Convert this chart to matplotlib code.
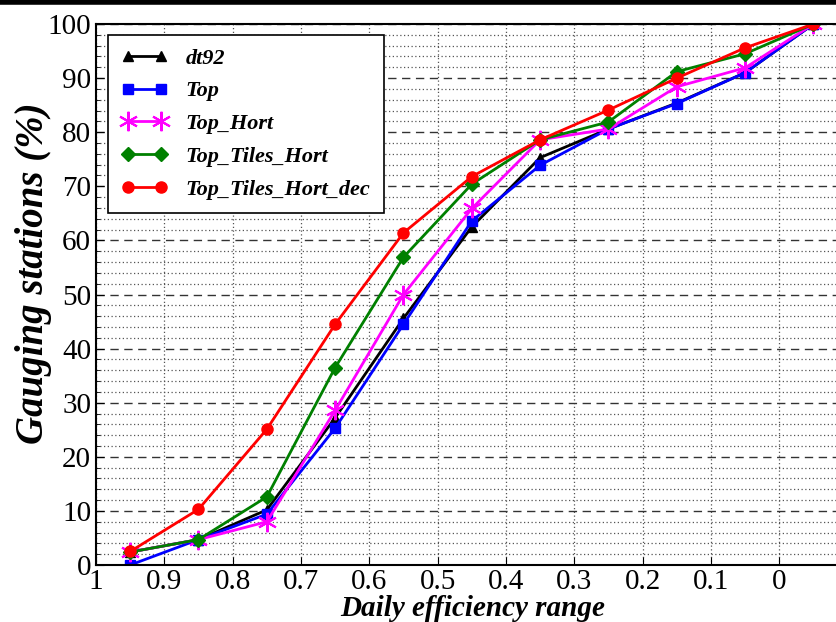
import numpy as np
import matplotlib.pyplot as plt
from matplotlib.lines import Line2D
from matplotlib.ticker import MultipleLocator, FormatStrFormatter

# efficiency bin centres (x axis runs from 1 down to 0)
x = [0.95, 0.85, 0.75, 0.65, 0.55, 0.45, 0.35, 0.25, 0.15, 0.05, -0.05]

dt92 = [2.4, 4.7, 10.2, 27.2, 45.6, 62.5, 75.3, 80.6, 85.4, 91.0, 100]
top = [0.0, 4.7, 9.4, 25.3, 44.5, 63.6, 73.9, 80.6, 85.3, 91.0, 100]
top_hort = [2.4, 4.7, 8.0, 28.6, 50.0, 65.9, 78.6, 80.6, 88.4, 91.9, 100]
top_tiles_hort = [2.4, 4.7, 12.6, 36.5, 56.9, 70.4, 78.6, 81.9, 91.2, 94.5, 100]
top_tiles_hort_dec = [2.5, 10.3, 25.1, 44.5, 61.4, 71.8, 78.6, 84.1, 90.0, 95.6, 100]

xticks = [1, 0.9, 0.8, 0.7, 0.6, 0.5, 0.4, 0.3, 0.2, 0.1, 0]

plt.rcParams['font.family'] = ['Liberation Serif', 'DejaVu Serif']

fig = plt.figure(figsize=(8.37, 6.22), dpi=100)
ax = fig.add_axes([0.1147, 0.0916, 0.898, 0.8698])

ax.plot(x, dt92, '-', color='black', marker='^', ms=7, lw=2, label='dt92')
ax.plot(x, top, '-', color='blue', marker='s', ms=7, lw=2, label='Top')
ax.plot(x, top_hort, '-', color='magenta', marker=(6, 2, 0), ms=14, mew=1.5, lw=2, label='Top_Hort')
ax.plot(x, top_tiles_hort, '-', color='green', marker='D', ms=7, lw=2, label='Top_Tiles_Hort')
ax.plot(x, top_tiles_hort_dec, '-', color='red', marker='o', ms=8, lw=2, label='Top_Tiles_Hort_dec')

ax.set_xlim(1, -0.1)
ax.set_ylim(0, 100)
ax.set_xticks(xticks)
ax.xaxis.set_major_formatter(FormatStrFormatter('%g'))
ax.yaxis.set_major_locator(MultipleLocator(10))
ax.yaxis.set_minor_locator(MultipleLocator(2))
ax.tick_params(which='both', direction='in', labelsize=21)
ax.tick_params(axis='x', pad=3)
ax.tick_params(which='major', length=6)
ax.tick_params(which='minor', length=3)

ax.grid(axis='y', which='major', color='#333333', ls=(0, (6, 4)), lw=1.0)
ax.grid(axis='y', which='minor', color='#555555', ls=(0, (1, 2)), lw=0.9)
ax.grid(axis='x', which='major', color='#555555', ls=(0, (1, 2)), lw=0.9)
ax.set_axisbelow(True)

for s in ax.spines.values():
    s.set_linewidth(1.5)

ax.set_xlabel('Daily efficiency range', fontsize=21, fontweight='bold', style='italic')
ax.xaxis.set_label_coords(0.501, -0.056)
ax.set_ylabel('Gauging stations (%)', fontsize=28, fontweight='bold', style='italic')
ax.yaxis.set_label_coords(-0.059, 0.54)

leg = ax.legend(loc='upper left', bbox_to_anchor=(0.016, 0.98), borderaxespad=0, numpoints=2,
                handlelength=2.1, fancybox=False, framealpha=1, edgecolor='black',
                prop={'size': 16, 'weight': 'bold', 'style': 'italic'},
                borderpad=0.6, labelspacing=0.55)
leg.get_frame().set_linewidth(1.2)

# thick border at the top of the picture
fig.add_artist(Line2D([0, 1], [0.997, 0.997], transform=fig.transFigure, color='black', lw=4))

fig.savefig('out.png', dpi=100)
